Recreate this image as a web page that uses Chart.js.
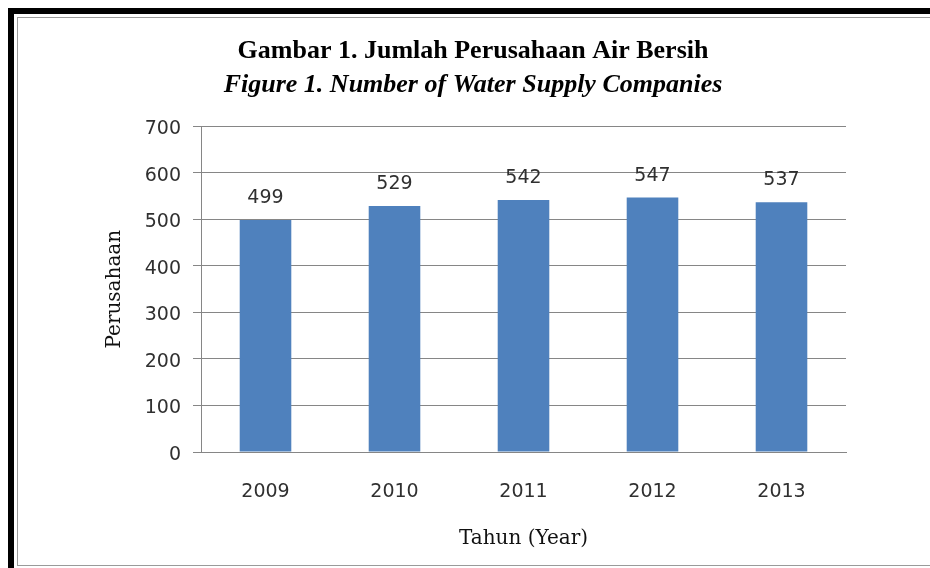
<!DOCTYPE html>
<html lang="id">
<head>
    <meta charset="UTF-8">
    <title>Jumlah Perusahaan Air Bersih</title>
    <script src="https://cdn.jsdelivr.net/npm/chart.js"></script>
    <style>
        html, body {
            margin: 0;
            padding: 0;
            background: #ffffff;
            width: 930px;
            height: 568px;
            overflow: hidden;
        }
        /* thick black frame (top + left) */
        #outer {
            position: absolute;
            left: 8px;
            top: 8px;
            width: 940px;
            height: 580px;
            border-top: 6px solid #000;
            border-left: 6px solid #000;
        }
        /* thin grey frame inside */
        #inner {
            position: absolute;
            left: 17px;
            top: 17px;
            width: 940px;
            height: 547px;
            border: 1px solid #9a9a9a;
        }
        #wrap {
            position: absolute;
            left: 0;
            top: 0;
            width: 930px;
            height: 568px;
        }
    </style>
</head>
<body>
    <div id="outer"></div>
    <div id="inner"></div>
    <div id="wrap"><canvas id="chart" width="930" height="568"></canvas></div>

    <script>
        // chart data
        const years = ['2009', '2010', '2011', '2012', '2013'];
        const companies = [499, 529, 542, 547, 537];
        const yTicks = [0, 100, 200, 300, 400, 500, 600, 700];

        const titleLine1 = 'Gambar 1. Jumlah Perusahaan Air Bersih';
        const titleLine2 = 'Figure 1. Number of Water Supply Companies';

        const tickFont = { family: 'DejaVu Sans', size: 19 };
        const axisTitleFont = { family: 'DejaVu Serif', size: 20 };
        const textColor = '#303030';

        // draw the value above each bar
        const valueLabels = {
            id: 'valueLabels',
            afterDatasetsDraw(chart) {
                const ctx = chart.ctx;
                const meta = chart.getDatasetMeta(0);
                ctx.save();
                ctx.font = tickFont.size + 'px "' + tickFont.family + '"';
                ctx.fillStyle = textColor;
                ctx.textAlign = 'center';
                ctx.textBaseline = 'middle';
                meta.data.forEach((bar, i) => {
                    ctx.fillText(String(companies[i]), bar.x, bar.y - 22);
                });
                ctx.restore();
            }
        };

        new Chart(document.getElementById('chart'), {
            type: 'bar',
            data: {
                labels: years,
                datasets: [{
                    data: companies,
                    backgroundColor: '#4f81bd',
                    borderWidth: 0,
                    categoryPercentage: 1,
                    barPercentage: 0.4
                }]
            },
            options: {
                responsive: false,
                animation: false,
                layout: {
                    padding: { top: 20, left: 100, right: 84, bottom: 10 }
                },
                plugins: {
                    legend: { display: false },
                    tooltip: { enabled: false },
                    title: {
                        display: true,
                        text: titleLine1,
                        color: '#000',
                        font: { family: 'Liberation Serif', size: 26, weight: 'bold' },
                        padding: { top: 16, bottom: 2 }
                    },
                    subtitle: {
                        display: true,
                        text: titleLine2,
                        color: '#000',
                        font: { family: 'Liberation Serif', size: 26, weight: 'bold', style: 'italic' },
                        padding: { top: 0, bottom: 26 }
                    }
                },
                scales: {
                    x: {
                        grid: { display: false },
                        border: { display: true, color: '#868686' },
                        ticks: { color: textColor, font: tickFont, padding: 21 },
                        title: {
                            display: true,
                            text: 'Tahun (Year)',
                            color: '#111',
                            font: axisTitleFont,
                            padding: { top: 0, bottom: 7 }
                        },
                        afterFit(scale) { scale.height = 106; }
                    },
                    y: {
                        min: 0,
                        max: 700,
                        afterBuildTicks(scale) {
                            scale.ticks = yTicks.map(v => ({ value: v }));
                        },
                        grid: { color: '#868686', tickLength: 8, drawTicks: true },
                        border: { display: true, color: '#868686' },
                        ticks: { color: textColor, font: tickFont, padding: 12, labelOffset: 3 },
                        title: {
                            display: true,
                            text: 'Perusahaan',
                            color: '#111',
                            font: axisTitleFont,
                            padding: { top: 3, bottom: 0 }
                        },
                        afterFit(scale) { scale.width = 101; }
                    }
                }
            },
            plugins: [valueLabels]
        });
    </script>
</body>
</html>
